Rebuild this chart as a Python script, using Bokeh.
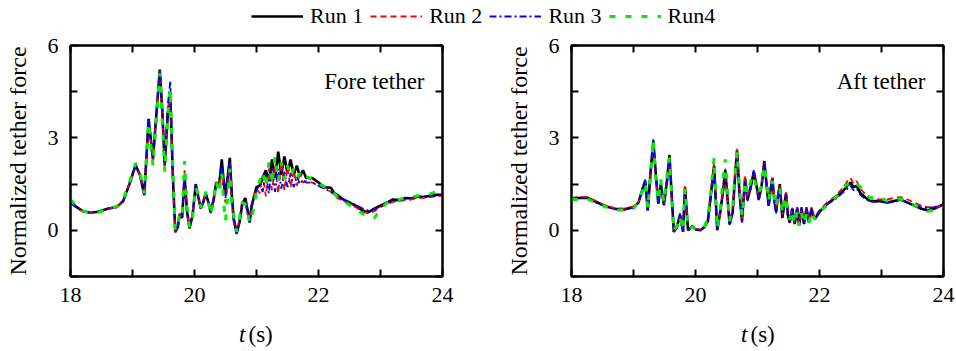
from bokeh.plotting import figure
from bokeh.layouts import column, row
from bokeh.models import (Legend, LegendItem, LinearAxis, FixedTicker, Label,
                          Range1d, ColumnDataSource)
from bokeh.embed import file_html
from bokeh.resources import INLINE

# ---------------- data ----------------
t_fore = [18.00, 18.10, 18.20, 18.32, 18.45, 18.60, 18.75, 18.85, 18.95, 19.05,
          19.12, 19.19, 19.26, 19.33, 19.39, 19.44, 19.48, 19.52, 19.57, 19.61,
          19.65, 19.69, 19.73, 19.76, 19.80, 19.84, 19.88, 19.92, 19.97, 20.02,
          20.06, 20.10, 20.14, 20.18, 20.22, 20.26, 20.31, 20.35, 20.40, 20.44,
          20.47, 20.50, 20.54, 20.57, 20.60, 20.63, 20.68, 20.73, 20.77, 20.82,
          20.86, 20.89, 20.92, 20.96, 21.00, 21.05, 21.10, 21.15, 21.20, 21.25,
          21.30, 21.35, 21.40, 21.45, 21.50, 21.55, 21.60, 21.65, 21.70, 21.75,
          21.80, 21.90, 22.00, 22.10, 22.20, 22.25, 22.30, 22.40, 22.50, 22.60,
          22.70, 22.80, 22.90, 23.00, 23.10, 23.20, 23.30, 23.40, 23.50, 23.60,
          23.70, 23.80, 23.90, 24.00]

fore_run1 = [0.92, 0.75, 0.62, 0.57, 0.60, 0.70, 0.76, 0.95, 1.50, 2.12,
             1.80, 1.15, 3.62, 2.30, 3.90, 5.22, 3.90, 2.10, 3.80, 4.35,
             1.80, -0.05, 0.10, 0.50, 0.40, 1.75, 0.60, 0.07, 0.50, 1.50,
             1.10, 0.72, 0.90, 1.20, 0.95, 0.60, 1.00, 1.55, 1.50, 2.30,
             1.60, 1.15, 1.80, 2.35, 1.20, 0.40, -0.10, 0.30, 0.85, 1.05,
             0.60, 0.25, 0.75, 1.10, 1.40, 1.45, 1.70, 1.95, 1.60, 2.30,
             1.70, 2.55, 1.80, 2.40, 1.85, 2.30, 1.80, 2.10, 1.75, 1.95,
             1.70, 1.70, 1.55, 1.40, 1.38, 1.22, 1.15, 1.00, 0.90, 0.80,
             0.65, 0.58, 0.70, 0.80, 0.90, 1.00, 0.98, 1.05, 1.03, 1.10,
             1.08, 1.12, 1.15, 1.15]

fore_run2 = [0.90, 0.73, 0.61, 0.57, 0.60, 0.70, 0.76, 0.97, 1.52, 2.10,
             1.78, 1.13, 3.55, 2.25, 3.95, 5.18, 3.80, 2.05, 3.90, 4.45,
             1.70, -0.08, 0.12, 0.55, 0.45, 1.95, 0.55, 0.05, 0.55, 1.45,
             1.05, 0.70, 0.95, 1.15, 0.90, 0.55, 0.95, 1.50, 1.40, 2.05,
             1.30, 0.90, 1.60, 2.20, 1.00, 0.30, -0.08, 0.40, 0.95, 0.85,
             0.50, 0.35, 0.85, 1.15, 1.35, 1.20, 1.80, 1.10, 2.00, 1.30,
             2.10, 1.20, 2.20, 1.30, 2.05, 1.40, 1.95, 1.45, 1.80, 1.55,
             1.60, 1.55, 1.45, 1.35, 1.25, 1.15, 1.05, 0.95, 0.85, 0.75,
             0.62, 0.55, 0.62, 0.75, 0.85, 0.92, 0.95, 0.98, 1.00, 1.05,
             1.05, 1.08, 1.10, 1.12]

fore_run3 = [0.90, 0.74, 0.62, 0.58, 0.61, 0.71, 0.77, 0.96, 1.48, 2.10,
             1.80, 1.14, 3.58, 2.35, 3.85, 5.15, 3.95, 2.15, 4.10, 4.85,
             1.90, -0.06, 0.08, 0.52, 0.42, 1.80, 0.58, 0.06, 0.52, 1.48,
             1.08, 0.70, 0.92, 1.18, 0.92, 0.58, 1.05, 1.45, 1.65, 2.15,
             1.45, 1.05, 1.95, 2.20, 1.35, 0.45, -0.12, 0.35, 0.90, 1.00,
             0.65, 0.30, 0.80, 1.05, 1.30, 1.50, 1.25, 1.85, 1.20, 2.05,
             1.25, 2.00, 1.35, 1.90, 1.40, 1.85, 1.40, 1.75, 1.50, 1.65,
             1.55, 1.55, 1.45, 1.35, 1.25, 1.20, 1.10, 1.00, 0.92, 0.82,
             0.72, 0.65, 0.68, 0.78, 0.88, 0.95, 0.98, 1.02, 1.05, 1.08,
             1.10, 1.12, 1.13, 1.15]

fore_run4 = [1.00, 0.78, 0.63, 0.56, 0.58, 0.68, 0.78, 0.98, 1.55, 2.18,
             1.85, 1.20, 3.50, 2.10, 3.70, 5.10, 3.60, 1.90, 3.70, 4.60,
             2.00, 0.00, 0.10, 0.60, 0.50, 2.25, 0.70, 0.10, 0.45, 1.40,
             1.15, 0.75, 0.80, 1.25, 1.00, 0.50, 0.90, 1.60, 1.20, 1.85,
             0.90, 0.30, 1.20, 2.00, 0.80, 0.50, -0.05, 0.45, 0.90, 0.85,
             0.55, 0.25, 0.35, 0.80, 1.25, 1.60, 1.90, 1.40, 2.20, 1.50,
             2.40, 1.60, 2.20, 1.65, 2.10, 1.75, 2.00, 1.70, 1.85, 1.65,
             1.75, 1.65, 1.55, 1.40, 1.30, 1.20, 1.10, 0.95, 0.82, 0.70,
             0.55, 0.42, 0.40, 0.70, 0.88, 0.98, 1.00, 1.05, 1.08, 1.12,
             1.15, 1.18, 1.25, 1.20]

t_aft = [18.00, 18.10, 18.25, 18.40, 18.55, 18.70, 18.85, 19.00, 19.08, 19.14,
         19.19, 19.23, 19.28, 19.32, 19.36, 19.40, 19.44, 19.49, 19.54, 19.58,
         19.62, 19.65, 19.70, 19.75, 19.80, 19.83, 19.88, 19.95, 20.00, 20.08,
         20.14, 20.20, 20.25, 20.30, 20.35, 20.40, 20.44, 20.48, 20.55, 20.60,
         20.64, 20.67, 20.71, 20.75, 20.80, 20.84, 20.89, 20.94, 20.98, 21.02,
         21.07, 21.11, 21.15, 21.18, 21.21, 21.24, 21.27, 21.30, 21.33, 21.36,
         21.40, 21.43, 21.46, 21.49, 21.52, 21.56, 21.60, 21.64, 21.67, 21.71,
         21.75, 21.79, 21.83, 21.87, 21.92, 22.00, 22.12, 22.25, 22.39, 22.45,
         22.50, 22.55, 22.60, 22.66, 22.75, 22.82, 22.95, 23.09, 23.20, 23.31,
         23.42, 23.53, 23.64, 23.74, 23.85, 23.96, 24.00]

aft_run1 = [1.03, 1.05, 1.06, 0.92, 0.78, 0.70, 0.68, 0.75, 0.90, 1.30,
            1.60, 0.65, 2.00, 2.90, 1.80, 0.87, 1.50, 0.82, 1.60, 2.45,
            1.00, -0.05, 0.10, 0.50, -0.05, 1.40, 0.00, 0.12, 0.03, 0.00,
            0.10, 0.30, 1.20, 2.10, 0.00, 0.60, 1.20, 1.95, 0.20, 0.60,
            1.80, 2.60, 1.20, 0.30, 1.70, 1.00, 1.40, 1.90, 1.50, 1.00,
            1.50, 2.25, 1.40, 0.80, 1.30, 1.70, 1.00, 0.60, 1.10, 1.50,
            0.40, 0.80, 1.20, 0.50, 0.25, 0.70, 0.20, 0.70, 0.15, 0.70,
            0.20, 0.70, 0.25, 0.70, 0.35, 0.60, 0.85, 1.05, 1.30, 1.45,
            1.55, 1.40, 1.45, 1.20, 1.05, 0.95, 0.95, 0.90, 0.95, 1.00,
            0.90, 0.80, 0.70, 0.65, 0.70, 0.80, 0.85]

aft_run2 = [1.05, 1.08, 1.08, 0.95, 0.80, 0.72, 0.70, 0.78, 0.92, 1.28,
            1.58, 0.70, 1.95, 2.85, 1.75, 0.90, 1.45, 0.85, 1.70, 2.40,
            0.95, -0.08, 0.12, 0.45, -0.05, 1.45, 0.02, 0.10, 0.05, 0.02,
            0.08, 0.35, 1.30, 2.20, 0.05, 0.55, 1.30, 1.85, 0.25, 0.70,
            1.90, 2.65, 1.30, 0.35, 1.75, 1.05, 1.55, 1.85, 1.40, 1.10,
            1.60, 2.20, 1.50, 0.90, 1.40, 1.75, 1.10, 0.70, 1.20, 1.45,
            0.50, 0.90, 1.25, 0.55, 0.30, 0.75, 0.25, 0.75, 0.20, 0.75,
            0.25, 0.75, 0.30, 0.75, 0.40, 0.65, 0.90, 1.10, 1.40, 1.60,
            1.70, 1.50, 1.60, 1.35, 1.15, 1.05, 1.00, 1.00, 1.05, 1.08,
            1.00, 0.90, 0.80, 0.75, 0.75, 0.80, 0.85]

aft_run3 = [1.02, 1.04, 1.05, 0.90, 0.76, 0.68, 0.66, 0.74, 0.88, 1.35,
            1.65, 0.62, 2.05, 2.95, 1.85, 0.85, 1.55, 0.80, 1.55, 2.35,
            1.05, -0.05, 0.08, 0.55, -0.05, 1.30, 0.00, 0.15, 0.02, 0.00,
            0.12, 0.25, 1.10, 2.05, 0.00, 0.65, 1.25, 2.00, 0.15, 0.55,
            1.75, 2.55, 1.15, 0.25, 1.60, 0.95, 1.35, 1.95, 1.45, 0.95,
            1.45, 2.15, 1.45, 0.75, 1.25, 1.65, 0.95, 0.55, 1.05, 1.40,
            0.45, 0.85, 1.15, 0.45, 0.30, 0.75, 0.25, 0.75, 0.20, 0.75,
            0.25, 0.75, 0.30, 0.70, 0.40, 0.62, 0.85, 1.00, 1.25, 1.35,
            1.45, 1.30, 1.35, 1.15, 1.00, 0.92, 0.92, 0.90, 0.92, 0.98,
            0.90, 0.82, 0.75, 0.72, 0.75, 0.82, 0.88]

aft_run4 = [1.00, 1.00, 1.02, 0.90, 0.76, 0.66, 0.65, 0.70, 0.95, 1.25,
            1.55, 0.70, 1.90, 2.95, 1.70, 0.95, 1.65, 0.90, 1.75, 2.35,
            0.90, -0.02, 0.15, 0.45, 0.00, 1.35, 0.05, 0.10, 0.05, 0.00,
            0.10, 0.40, 1.35, 2.35, 0.05, 0.70, 1.55, 2.30, 0.30, 0.80,
            1.90, 2.55, 1.40, 0.45, 1.60, 1.20, 1.60, 1.80, 1.35, 1.20,
            1.45, 2.10, 1.55, 0.95, 1.35, 1.60, 1.05, 0.75, 1.15, 1.35,
            0.55, 0.85, 1.10, 0.50, 0.35, 0.65, 0.20, 0.60, 0.15, 0.55,
            0.20, 0.55, 0.25, 0.60, 0.35, 0.60, 0.80, 1.05, 1.40, 1.50,
            1.55, 1.60, 1.50, 1.40, 1.15, 1.05, 1.10, 0.95, 0.98, 1.02,
            0.92, 0.82, 0.70, 0.62, 0.65, 0.72, 0.75]

run_names = ["Run 1", "Run 2", "Run 3", "Run4"]
x_major = [18, 20, 22, 24]
x_minor = [19, 21, 23]
y_major = [0, 3, 6]
y_minor = [-1.5, 1.5, 4.5]
panel_titles = ["Fore tether", "Aft tether"]

# ---------------- styling ----------------
FONT = "Liberation Serif"
styles = [
    dict(line_color="black", line_width=2.6),
    dict(line_color="red", line_width=1.8, line_dash="6 4"),
    dict(line_color="blue", line_width=1.8, line_dash="7 3 2 3"),
    dict(line_color="#00ee00", line_width=3.0, line_dash="6 10"),
]


def style_axis(ax, labels=True):
    ax.axis_line_width = 2
    ax.axis_line_color = "black"
    ax.major_tick_in = 7
    ax.major_tick_out = 0
    ax.minor_tick_in = 7
    ax.minor_tick_out = 0
    ax.major_tick_line_width = 2
    ax.minor_tick_line_width = 2
    ax.major_tick_line_color = "black"
    ax.minor_tick_line_color = "black"
    ax.major_label_text_font = FONT
    ax.major_label_text_color = "black"
    if labels:
        ax.major_label_text_font_size = "22px"
    else:
        ax.major_label_text_font_size = "0px"
        ax.major_label_standoff = 0


def make_panel(t, runs, title, left_border):
    p = figure(width=478, height=281, output_backend="svg", toolbar_location=None,
               x_range=Range1d(18, 24), y_range=Range1d(-1.5, 6),
               min_border_left=left_border, min_border_right=478 - left_border - 372,
               min_border_top=13, min_border_bottom=37)
    p.grid.visible = False
    p.outline_line_color = "black"
    p.outline_line_width = 2
    p.background_fill_color = "white"
    p.border_fill_color = "white"

    p.xaxis.ticker = FixedTicker(ticks=x_major, minor_ticks=x_minor)
    p.yaxis.ticker = FixedTicker(ticks=y_major, minor_ticks=y_minor)
    for ax in p.xaxis:
        style_axis(ax)
        ax.major_label_standoff = 11
    for ax in p.yaxis:
        style_axis(ax)
        ax.major_label_standoff = 12
        ax.axis_label = "Normalized tether force"
        ax.axis_label_text_font = FONT
        ax.axis_label_text_font_size = "24px"
        ax.axis_label_text_font_style = "normal"
        ax.axis_label_standoff = 14
        ax.axis_label_text_color = "black"

    top = LinearAxis(ticker=FixedTicker(ticks=x_major, minor_ticks=x_minor),
                     major_label_overrides={v: "" for v in x_major})
    style_axis(top, labels=False)
    right = LinearAxis(ticker=FixedTicker(ticks=y_major, minor_ticks=y_minor),
                       major_label_overrides={v: "" for v in y_major})
    style_axis(right, labels=False)
    p.add_layout(top, "above")
    p.add_layout(right, "right")

    for vals, st in zip(runs, styles):
        src = ColumnDataSource(dict(t=t, v=vals))
        p.line("t", "v", source=src, **st)

    p.add_layout(Label(x=23.71, y=4.82, text=title, text_align="right",
                       text_baseline="alphabetic", text_font=FONT,
                       text_font_size="23px", text_color="black"))
    return p


p1 = make_panel(t_fore, [fore_run1, fore_run2, fore_run3, fore_run4], panel_titles[0], 70)
p2 = make_panel(t_aft, [aft_run1, aft_run2, aft_run3, aft_run4], panel_titles[1], 93)

# legend strip
nan = float("nan")
pl = figure(width=956, height=32, output_backend="svg", toolbar_location=None,
            x_range=Range1d(0, 1), y_range=Range1d(0, 1), min_border=0)
pl.axis.visible = False
pl.grid.visible = False
pl.outline_line_color = None
items = []
for name, st in zip(run_names, styles):
    r = pl.line(x=[nan], y=[nan], **st)
    items.append(LegendItem(label=name, renderers=[r]))
leg = Legend(items=items, orientation="horizontal", location=(251, 3),
             label_text_font=FONT, label_text_font_size="22px",
             label_text_color="black", glyph_width=52, glyph_height=20,
             label_standoff=7, spacing=7, padding=0, margin=0,
             border_line_color=None, background_fill_alpha=0)
pl.add_layout(leg, "center")

# x-axis title strip: "t (s)" with italic t, under each panel
px = figure(width=956, height=38, output_backend="svg", toolbar_location=None,
            x_range=Range1d(0, 956), y_range=Range1d(0, 38), min_border=0)
px.axis.visible = False
px.grid.visible = False
px.outline_line_color = None
for left, (tr, sl) in zip([70, 571], [(175, 178), (176, 179)]):
    px.add_layout(Label(x=left + tr, y=17.5, x_units="screen", y_units="screen",
                        text="t", text_align="right", text_baseline="middle",
                        text_font=FONT, text_font_style="italic",
                        text_font_size="23px", text_color="black"))
    px.add_layout(Label(x=left + sl, y=17.5, x_units="screen", y_units="screen",
                        text="(s)", text_align="left", text_baseline="middle",
                        text_font=FONT, text_font_size="23px", text_color="black"))

layout = column(pl, row(p1, p2), px)
open("out.html", "w").write(file_html(layout, INLINE))
